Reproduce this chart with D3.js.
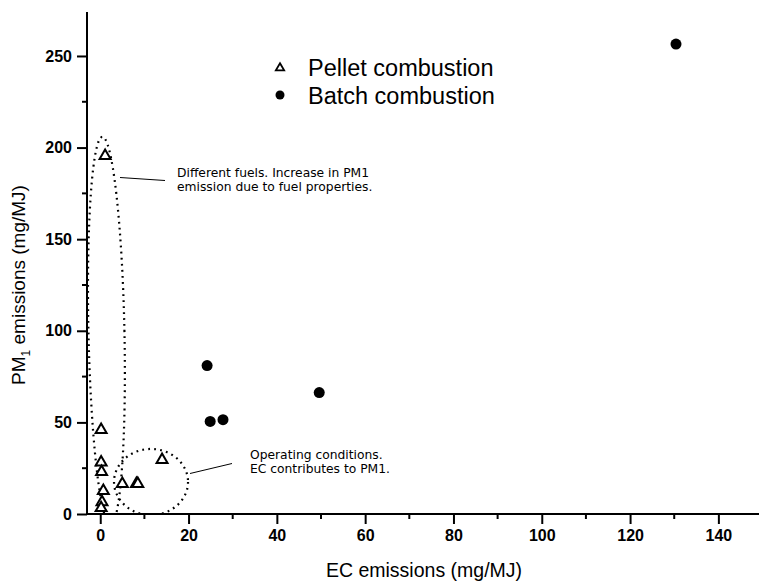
<!DOCTYPE html>
<html><head><meta charset="utf-8">
<script src="https://cdn.jsdelivr.net/npm/d3@7"></script>
<style>body{margin:0;background:#fff}svg{display:block}</style>
</head><body>
<script>
// Data
const pelletX = [1.1, 0.2, 0.2, 0.3, 0.7, 0.4, 0.2, 5.0, 8.2, 8.5, 14.0];
const pelletY = [195.5, 46, 28.2, 23, 12.7, 6.5, 3.3, 16.5, 16.5, 16.5, 29.6];
const batchX = [130.4, 24.2, 24.9, 27.8, 49.6];
const batchY = [256.5, 81, 50.5, 51.5, 66.3];
const xTicks = [0, 20, 40, 60, 80, 100, 120, 140];
const yTicks = [0, 50, 100, 150, 200, 250];
const legendLabels = ["Pellet combustion", "Batch combustion"];
const noteFuels = ["Different fuels. Increase in PM1", "emission due to fuel properties."];
const noteOper = ["Operating conditions.", "EC contributes to PM1."];

const W = 759, H = 586;
const svg = d3.select("body").append("svg").attr("width", W).attr("height", H);
const x = d3.scaleLinear().domain([-3, 149.2]).range([87, 759]);
const y = d3.scaleLinear().domain([0, 274]).range([514, 12]);

svg.append("clipPath").attr("id", "plotclip").append("rect")
  .attr("x", 87).attr("y", 0).attr("width", W - 87).attr("height", 514);

// Axes
const xMinor = d3.range(10, 150, 20);
const yMinor = d3.range(25, 275, 50);
const xAx = svg.append("g").attr("transform", "translate(0,514)");
xAx.call(d3.axisBottom(x).tickValues(xTicks).tickSize(10).tickPadding(6).tickSizeOuter(0));
xAx.append("g").selectAll("line").data(xMinor).join("line")
  .attr("x1", d => x(d)).attr("x2", d => x(d)).attr("y1", 0).attr("y2", 5)
  .attr("stroke", "#000").attr("stroke-width", 2);
const yAx = svg.append("g").attr("transform", "translate(87,0)");
yAx.call(d3.axisLeft(y).tickValues(yTicks).tickSize(10).tickPadding(5).tickSizeOuter(0));
yAx.append("g").selectAll("line").data(yMinor).join("line")
  .attr("y1", d => y(d)).attr("y2", d => y(d)).attr("x1", 0).attr("x2", -5)
  .attr("stroke", "#000").attr("stroke-width", 2);
[xAx, yAx].forEach(g => {
  g.select(".domain").attr("stroke", "#000").attr("stroke-width", 2);
  g.selectAll(".tick line").attr("stroke", "#000").attr("stroke-width", 2);
  g.selectAll(".tick text").attr("font-family", "Liberation Sans, Arial, sans-serif")
    .attr("font-size", 16).attr("font-weight", "bold").attr("fill", "#000");
});
xAx.select(".domain").attr("d", `M87,0H${W}`);
yAx.select(".domain").attr("d", `M0,12V514`);

// Axis titles
svg.append("text").attr("x", 424).attr("y", 577).attr("text-anchor", "middle")
  .attr("font-family", "Liberation Sans, Arial, sans-serif").attr("font-size", 19.5)
  .text("EC emissions (mg/MJ)");
const yl = svg.append("text").attr("transform", "translate(25,285) rotate(-90)")
  .attr("text-anchor", "middle")
  .attr("font-family", "Liberation Sans, Arial, sans-serif").attr("font-size", 19);
yl.append("tspan").text("PM");
yl.append("tspan").attr("font-size", 12).attr("dy", 5).text("1");
yl.append("tspan").attr("dy", -5).text(" emissions (mg/MJ)");

// Dotted ellipses
const ell = svg.append("g").attr("clip-path", "url(#plotclip)")
  .attr("fill", "none").attr("stroke", "#000").attr("stroke-width", 2.2)
  .attr("stroke-dasharray", "1.8 4.2").attr("stroke-linecap", "butt");
ell.append("ellipse").attr("cx", x(1.4)).attr("cy", y(100)).attr("rx", 18).attr("ry", 194)
  .attr("transform", `rotate(-1.2 ${x(1.4)} ${y(100)})`);
ell.append("ellipse").attr("cx", x(11.5)).attr("cy", y(17.5)).attr("rx", 37).attr("ry", 33);

// Annotation leader lines
svg.append("line").attr("x1", 120).attr("y1", 177.5).attr("x2", 165).attr("y2", 180.5)
  .attr("stroke", "#000").attr("stroke-width", 1);
svg.append("line").attr("x1", 190).attr("y1", 473.5).attr("x2", 232).attr("y2", 463.5)
  .attr("stroke", "#000").attr("stroke-width", 1);
const noteFont = "DejaVu Sans, Verdana, sans-serif";
noteFuels.forEach((t, i) => svg.append("text").attr("x", 177).attr("y", 177 + i * 14)
  .attr("font-family", noteFont).attr("font-size", 12.3).attr("textLength", null).text(t));
noteOper.forEach((t, i) => svg.append("text").attr("x", 250).attr("y", 459 + i * 14)
  .attr("font-family", noteFont).attr("font-size", 12.3).text(t));

// Points
const tri = d3.symbol(d3.symbolTriangle).size(52);
svg.append("g").selectAll("path").data(pelletX.map((v, i) => [v, pelletY[i]])).join("path")
  .attr("d", tri).attr("transform", d => `translate(${x(d[0])},${y(d[1])})`)
  .attr("fill", "#fff").attr("stroke", "#000").attr("stroke-width", 2);
svg.append("g").selectAll("circle").data(batchX.map((v, i) => [v, batchY[i]])).join("circle")
  .attr("cx", d => x(d[0])).attr("cy", d => y(d[1])).attr("r", 5.5).attr("fill", "#000");

// Legend
const lg = svg.append("g");
lg.append("path").attr("d", d3.symbol(d3.symbolTriangle).size(30))
  .attr("transform", "translate(280,68)").attr("fill", "#fff").attr("stroke", "#000").attr("stroke-width", 1.8);
lg.append("circle").attr("cx", 280).attr("cy", 95).attr("r", 4.5).attr("fill", "#000");
legendLabels.forEach((t, i) => lg.append("text").attr("x", 308).attr("y", 76 + i * 28)
  .attr("font-family", "Liberation Sans, Arial, sans-serif").attr("font-size", 23.5).text(t));
</script>
</body></html>
